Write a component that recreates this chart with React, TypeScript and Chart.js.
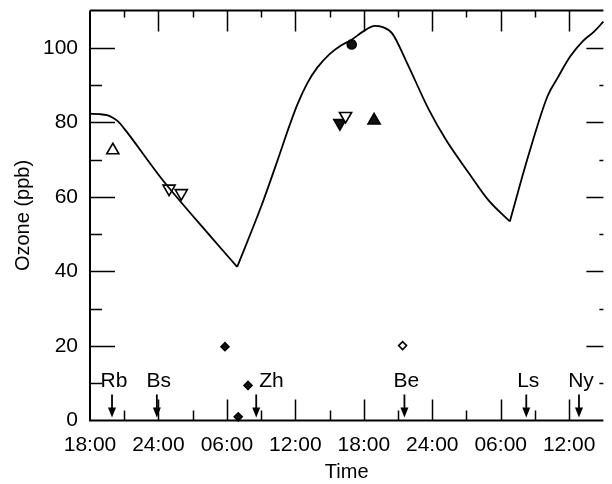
import React, { useEffect, useRef } from 'react';
import { Chart, registerables } from 'chart.js';

Chart.register(...registerables);

// Model curve: hours since 18:00 on day 1, ozone in ppb (three pieces between the sharp minima)
const modelHoursA = [0, 0.8, 1.5, 2.0, 2.5, 3.0, 6.35, 10.68, 12.9];
const modelOzoneA = [82.3, 82.2, 81.9, 81.2, 80.1, 78.3, 64.6, 49.0, 41.2];
const modelHoursB = [12.9, 15.0, 16.45, 17.46, 18.18, 19.05, 19.9, 21.0, 22.0, 22.9, 23.95, 24.96, 25.6, 26.5, 27.7, 29.7, 31.2, 33.2, 34.9, 36.8];
const modelOzoneB = [41.2, 57.4, 69.9, 78.9, 84.8, 90.5, 94.6, 98.3, 100.6, 102.1, 104.4, 105.9, 105.6, 103.8, 96.5, 83.4, 75.3, 66.4, 59.2, 53.4];
const modelHoursC = [36.8, 38.4, 40.1, 41.0, 42.1, 43.2, 44.2, 45.0];
const modelOzoneC = [53.4, 70.8, 87.0, 92.0, 97.7, 101.8, 104.4, 107.0];

// Observations
const openUpHours = [2.0];
const openUpOzone = [72.5];
const openDownHours = [6.93, 8.0, 22.4];
const openDownOzone = [62.2, 61.0, 81.7];
const filledDownHours = [21.9];
const filledDownOzone = [79.8];
const filledUpHours = [24.9];
const filledUpOzone = [80.5];
const circleHours = [22.94];
const circleOzone = [100.9];
const filledDiamondHours = [11.83, 13.85, 12.99];
const filledDiamondOzone = [19.8, 9.4, 1.0];
const openDiamondHours = [27.4];
const openDiamondOzone = [20.1];

// Axis tick labels (every 6 hours)
const xTickLabels = ['18:00', '24:00', '06:00', '12:00', '18:00', '24:00', '06:00', '12:00'];

// Stations
const stationNames = ['Rb', 'Bs', 'Zh', 'Be', 'Ls', 'Ny'];
const stationHours = [1.93, 5.86, 14.57, 27.56, 38.24, 42.86];

const FONT = '"Liberation Sans", Arial, Helvetica, sans-serif';

const pts = (xs: number[], ys: number[]) => xs.map((x, i) => ({ x, y: ys[i] }));

const framePlugin = {
  id: 'frameTicks',
  afterDatasetsDraw(chart: any) {
    const { ctx, chartArea: a, scales } = chart;
    const x = scales.x;
    const y = scales.y;
    ctx.save();
    ctx.strokeStyle = '#000';
    ctx.lineWidth = 2;
    ctx.beginPath();
    ctx.moveTo(a.left, a.top);
    ctx.lineTo(a.right, a.top);
    ctx.moveTo(a.left, a.top);
    ctx.lineTo(a.left, a.bottom);
    ctx.lineTo(a.right, a.bottom);
    ctx.stroke();
    ctx.lineWidth = 1.5;
    ctx.beginPath();
    x.ticks.forEach((t: any) => {
      if (t.value <= 0 || t.value >= 45) return;
      const px = Math.round(x.getPixelForValue(t.value)) + 0.5;
      const major = t.value % 6 === 0;
      ctx.moveTo(px, a.bottom);
      ctx.lineTo(px, a.bottom - (major ? 21 : 10));
      ctx.moveTo(px, a.top);
      ctx.lineTo(px, a.top + (major ? 21 : 7));
    });
    y.ticks.forEach((t: any) => {
      if (t.value <= 0 || t.value >= 110) return;
      const py = Math.round(y.getPixelForValue(t.value)) + 0.5;
      const major = t.value % 20 === 0;
      ctx.moveTo(a.left, py);
      ctx.lineTo(a.left + (major ? 25 : 12), py);
      ctx.moveTo(a.right, py);
      ctx.lineTo(a.right - (major ? 17 : 4), py);
    });
    ctx.stroke();
    ctx.restore();
  },
};

const stationPlugin = {
  id: 'stations',
  afterDatasetsDraw(chart: any) {
    const { ctx, scales } = chart;
    const x = scales.x;
    const y0 = scales.y.getPixelForValue(0);
    ctx.save();
    ctx.fillStyle = '#000';
    ctx.strokeStyle = '#000';
    ctx.font = `21px ${FONT}`;
    ctx.textBaseline = 'alphabetic';
    stationNames.forEach((name, i) => {
      const px = x.getPixelForValue(stationHours[i]);
      ctx.lineWidth = 1.8;
      ctx.beginPath();
      ctx.moveTo(px, y0 - 26);
      ctx.lineTo(px, y0 - 10);
      ctx.stroke();
      ctx.beginPath();
      ctx.moveTo(px - 4, y0 - 13);
      ctx.lineTo(px + 4, y0 - 13);
      ctx.lineTo(px, y0 - 3);
      ctx.closePath();
      ctx.fill();
      if (name === 'Zh') {
        ctx.textAlign = 'left';
        ctx.fillText(name, px + 3, y0 - 34);
      } else {
        ctx.textAlign = 'center';
        ctx.fillText(name, px + 2, y0 - 34);
      }
    });
    ctx.restore();
  },
};

export default function App() {
  const ref = useRef<HTMLCanvasElement | null>(null);
  useEffect(() => {
    if (!ref.current) return;
    const curve = (data: any) => ({
      type: 'line',
      data,
      borderColor: '#000',
      borderWidth: 1.8,
      pointRadius: 0,
      cubicInterpolationMode: 'monotone',
      fill: false,
    });
    const marker = (data: any, style: string, filled: boolean, radius: number, rotation = 0) => ({
      type: 'scatter',
      data,
      showLine: false,
      pointStyle: style,
      pointRadius: radius,
      pointRotation: rotation,
      pointBackgroundColor: filled ? '#111' : '#fff',
      pointBorderColor: '#000',
      pointBorderWidth: 1.6,
    });
    const chart = new Chart(ref.current, {
      type: 'scatter',
      data: {
        datasets: [
          curve(pts(modelHoursA, modelOzoneA)),
          curve(pts(modelHoursB, modelOzoneB)),
          curve(pts(modelHoursC, modelOzoneC)),
          marker(pts(openUpHours, openUpOzone), 'triangle', false, 7),
          marker(pts(openDownHours, openDownOzone), 'triangle', false, 7, 180),
          marker(pts(filledDownHours, filledDownOzone), 'triangle', true, 7, 180),
          marker(pts(filledUpHours, filledUpOzone), 'triangle', true, 7),
          marker(pts(circleHours, circleOzone), 'circle', true, 4.5),
          marker(pts(filledDiamondHours, filledDiamondOzone), 'rectRot', true, 4),
          marker(pts(openDiamondHours, openDiamondOzone), 'rectRot', false, 4),
        ] as any,
      },
      options: {
        responsive: false,
        animation: false,
        clip: false,
        layout: { padding: { top: 10.5, right: 2, left: 0, bottom: 0 } },
        plugins: { legend: { display: false }, tooltip: { enabled: false } },
        scales: {
          x: {
            type: 'linear',
            min: 0,
            max: 45,
            afterFit: (s: any) => {
              s.height = 63.5;
              s.paddingLeft = 0;
              s.paddingRight = 0;
            },
            grid: { display: false, drawTicks: false },
            border: { display: false },
            ticks: {
              stepSize: 3,
              autoSkip: false,
              maxRotation: 0,
              padding: 12,
              color: '#000',
              font: { family: FONT, size: 21 },
              callback: (v: any) => (v % 6 === 0 && v / 6 < xTickLabels.length ? xTickLabels[v / 6] : ''),
            },
            title: { display: true, text: 'Time', color: '#000', font: { family: FONT, size: 20 }, padding: { top: 0, bottom: 0 } },
          },
          y: {
            min: 0,
            max: 110,
            afterFit: (s: any) => {
              s.width = 90;
              s.paddingTop = 0;
              s.paddingBottom = 0;
            },
            grid: { display: false, drawTicks: false },
            border: { display: false },
            ticks: {
              stepSize: 10,
              padding: 12,
              color: '#000',
              font: { family: FONT, size: 21 },
              callback: (v: any) => (v % 20 === 0 ? String(v) : ''),
            },
            title: { display: true, text: 'Ozone (ppb)', color: '#000', font: { family: FONT, size: 20 }, padding: { top: 11, bottom: 0 } },
          },
        },
      } as any,
      plugins: [framePlugin, stationPlugin],
    });
    return () => chart.destroy();
  }, []);
  return (
    <div style={{ position: 'absolute', left: 0, top: 0, width: 612, height: 484, background: '#fff' }}>
      <canvas ref={ref} width={612} height={484} style={{ display: 'block' }} />
    </div>
  );
}
